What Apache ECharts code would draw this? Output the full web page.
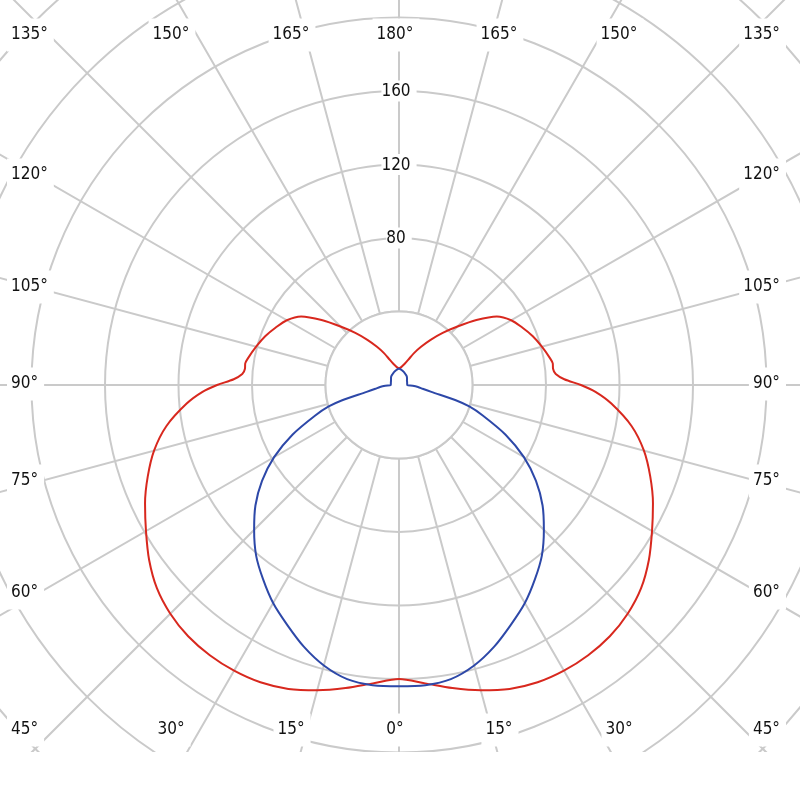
<!DOCTYPE html>
<html><head><meta charset="utf-8">
<script src="https://cdn.jsdelivr.net/npm/echarts@6/dist/echarts.min.js"></script>
<style>html,body{margin:0;padding:0;background:#fff}#c{width:800px;height:800px}</style>
</head><body><div id="c"></div>
<script>
// Photometric angles (0 = nadir, 180 = zenith), both halves symmetric
const redAngles  = [0,5,10,15,20,25,30,35,40,45,50,55,60,65,70,75,80,85,88,90,92,94,96,98,100,105,110,115,120,125,130,135,140,145,150,155,160,165,170,175,180];
const redValues  = [160,163,167.5,172,176,178.5,179.5,179.5,178.5,176,172,166,159,152.5,145.5,138,128.5,116,107,99,90,85.5,84.3,84.5,83.5,80.5,77.5,74,70.5,65,55,45,37,30,24,19,14.5,12,10.5,9.5,9];
const blueAngles = [0,5,10,15,20,25,30,35,40,45,50,55,60,65,70,73,75,78,81,84,87,90,100,110,120,130,140,150,160,170,180];
const blueValues = [164,164,162.5,158,151.5,144,137,129,121,111.5,102,91,78.5,64,48.5,40,32,18,13,10.4,7.5,4.5,4.5,4.7,5.0,5.7,6.4,6.9,7.6,8.3,9.1];
const radiusTickLabels = [80,120,160];
const angleTickLabels  = [0,15,30,45,60,75,90,105,120,135,150,165,180];

const FONT = "'DejaVu Sans Condensed','DejaVu Sans',sans-serif";
const GRID = '#cacaca';
const CX = 399, CY = 385, R_MAX = 588, V_MAX = 320, V_INNER = 40;

function toPolar(angles, values){
  const out = [];
  for (let i = angles.length-1; i >= 0; i--) out.push([values[i], 180 + angles[i]]);
  for (let i = 1; i < angles.length; i++) out.push([values[i], 180 - angles[i]]);
  return out;
}

const rad = Math.PI/180;
function labelPos(theta, side){
  const LX = 396, LY = 384, TOP = 35, BOT = 730;
  if (theta <= 30) return {x: LX + side*388*Math.tan(theta*rad), y: BOT, align:'center'};
  if (theta >= 150) return {x: LX + side*388*Math.tan((180-theta)*rad), y: TOP, align:'center'};
  let y = LY + 362*Math.tan((90-theta)*rad);
  y = Math.max(TOP, Math.min(BOT, y));
  return {x: side < 0 ? 7 : 786, y: y, align: side < 0 ? 'left' : 'right'};
}

const graphics = [
  // empty hub: spokes start at the first ring
  {type:'circle', shape:{cx:CX, cy:CY, r:R_MAX*V_INNER/V_MAX}, style:{fill:'#fff', stroke:GRID, lineWidth:2}, z:1},
  // plot area ends at the bottom
  {type:'rect', shape:{x:0,y:752,width:800,height:48}, style:{fill:'#fff'}, z:50}
];
angleTickLabels.forEach(t => {
  const sides = (t === 0 || t === 180) ? [0] : [-1, 1];
  sides.forEach(s => {
    const p = labelPos(t, s);
    graphics.push({type:'text', x:p.x, y:p.y, z:100,
      style:{text: t + '°', fill:'#111', fontSize:17, fontFamily:FONT,
             align:p.align, verticalAlign:'middle', backgroundColor:'#fff', padding:[8,6,8,4]}});
  });
});

const chart = echarts.init(document.getElementById('c'), null, {renderer:'canvas'});
chart.setOption({
  animation:false,
  backgroundColor:'#fff',
  polar:{center:[CX,CY], radius:[0,R_MAX]},
  angleAxis:{type:'value', min:0, max:360, interval:15, startAngle:90, clockwise:true, z:0,
    axisLine:{show:false},
    axisTick:{show:false}, axisLabel:{show:false},
    splitLine:{show:true, lineStyle:{color:GRID, width:2}}},
  radiusAxis:{type:'value', min:0, max:V_MAX, interval:40, z:0,
    axisLine:{show:false}, axisTick:{show:false},
    splitLine:{show:true, lineStyle:{color:GRID, width:2}},
    axisLabel:{show:true, margin:0, align:'center', verticalAlign:'middle',
      formatter: v => radiusTickLabels.indexOf(v) >= 0 ? '{a|' + v + '}' : '',
      rich:{a:{fontSize:17, fontFamily:FONT, color:'#111', backgroundColor:'#fff', padding:[3,6,1,0]}}}},
  series:[
    {type:'line', coordinateSystem:'polar', data:toPolar(redAngles, redValues), showSymbol:false, smooth:0.3, clip:false,
     lineStyle:{color:'#d8281e', width:2}, z:5},
    {type:'line', coordinateSystem:'polar', data:toPolar(blueAngles, blueValues), showSymbol:false, smooth:0.3, clip:false,
     lineStyle:{color:'#2d48a8', width:2}, z:6}
  ],
  graphic: graphics
});
</script></body></html>
